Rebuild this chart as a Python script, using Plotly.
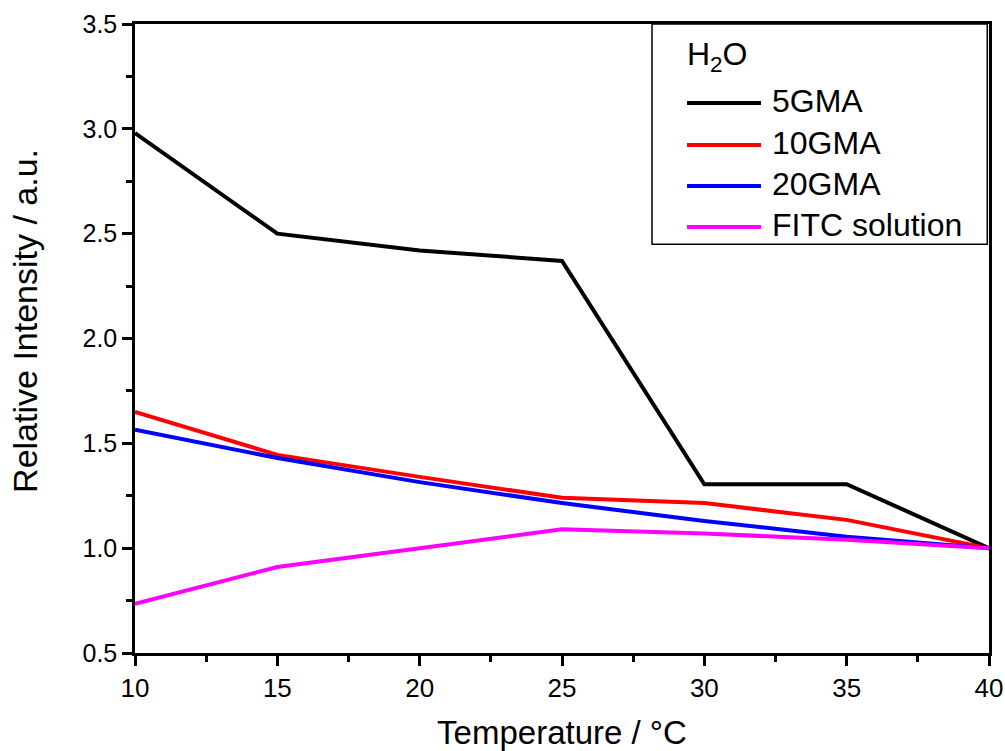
import plotly.graph_objects as go

temperature = [10, 15, 20, 25, 30, 35, 40]
gma5 = [2.98, 2.50, 2.42, 2.37, 1.305, 1.305, 1.00]
gma10 = [1.65, 1.445, 1.34, 1.24, 1.215, 1.135, 1.00]
gma20 = [1.565, 1.43, 1.315, 1.215, 1.13, 1.055, 1.00]
fitc = [0.735, 0.91, 1.00, 1.09, 1.07, 1.04, 1.00]

series_names = ["5GMA", "10GMA", "20GMA", "FITC solution"]
series_values = [gma5, gma10, gma20, fitc]
series_colors = ["#000000", "#ff0000", "#0000ff", "#ff00ff"]
legend_title = "H<sub>2</sub>O"
x_title = "Temperature / °C"
y_title = "Relative Intensity / a.u."

font = "Liberation Sans, Arial, sans-serif"

fig = go.Figure()
for name, vals, col in zip(series_names, series_values, series_colors):
    fig.add_trace(go.Scatter(x=temperature, y=vals, mode="lines", name=name,
                             line=dict(color=col, width=4), showlegend=False))

# Legend drawn in paper coordinates (box, sample lines, labels)
shapes = [dict(type="rect", xref="paper", yref="paper", x0=0.6054, x1=0.998, y0=0.650, y1=1.0,
               line=dict(color="black", width=1.5), fillcolor="rgba(0,0,0,0)", layer="above")]
annotations = [dict(text=legend_title, xref="paper", yref="paper", x=0.644, y=0.948,
                    xanchor="left", yanchor="middle", showarrow=False,
                    font=dict(size=32, family=font, color="black"))]
entry_y = [0.8744, 0.8076, 0.7424, 0.6773]
for name, col, yy in zip(series_names, series_colors, entry_y):
    shapes.append(dict(type="line", xref="paper", yref="paper", x0=0.6464, x1=0.733, y0=yy, y1=yy,
                       line=dict(color=col, width=4)))
    annotations.append(dict(text=name, xref="paper", yref="paper", x=0.7435, y=yy + 0.003,
                            xanchor="left", yanchor="middle", showarrow=False,
                            font=dict(size=32, family=font, color="black")))

# y-axis title (placed slightly above centre, as in the reference)
annotations.append(dict(text=y_title, xref="paper", yref="paper", x=-0.1288, y=0.528,
                        xanchor="center", yanchor="middle", textangle=-90, showarrow=False,
                        font=dict(size=34, family=font, color="black")))

fig.update_layout(
    width=1005, height=751,
    margin=dict(l=135, r=16, t=24, b=98),
    plot_bgcolor="white", paper_bgcolor="white",
    font=dict(family=font, color="black", size=26),
    showlegend=False,
    shapes=shapes,
    annotations=annotations,
    xaxis=dict(range=[10, 40], dtick=5, tick0=10, showgrid=False, zeroline=False, automargin=False,
               showline=True, linecolor="black", linewidth=2.5, mirror=True,
               ticks="outside", ticklen=10, tickwidth=2.5, tickcolor="black",
               minor=dict(dtick=2.5, ticks="outside", ticklen=6, tickwidth=2.5, tickcolor="black", showgrid=False),
               title=dict(text=x_title, font=dict(size=33, family=font), standoff=25),
               tickfont=dict(size=26, family=font)),
    yaxis=dict(range=[0.5, 3.5], dtick=0.5, tick0=0.5, tickformat=".1f", showgrid=False, zeroline=False, automargin=False,
               showline=True, linecolor="black", linewidth=2.5, mirror=True,
               ticks="outside", ticklen=10, tickwidth=2.5, tickcolor="black",
               minor=dict(dtick=0.25, ticks="outside", ticklen=6, tickwidth=2.5, tickcolor="black", showgrid=False),
               tickfont=dict(size=25, family=font)),
)

fig.write_html("out.html", config={"displayModeBar": False},
               post_script="document.body.style.margin='0';document.body.style.overflow='hidden';")
